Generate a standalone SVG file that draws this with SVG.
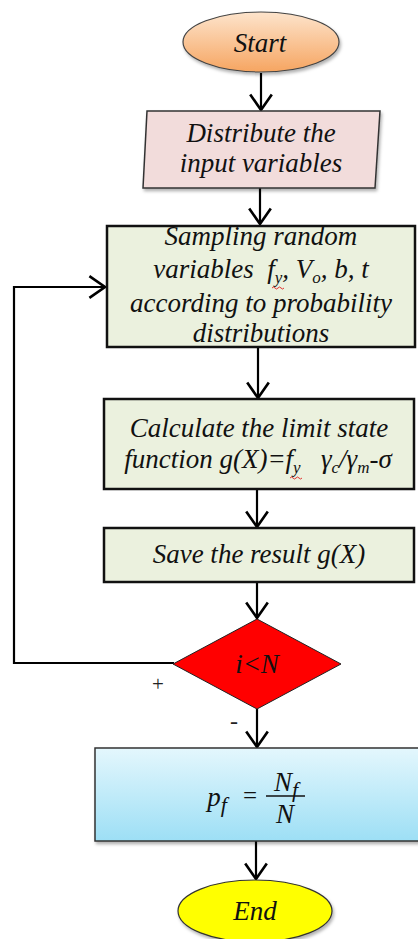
<svg xmlns="http://www.w3.org/2000/svg" width="418" height="939" viewBox="0 0 418 939">
<defs>
<style>
text{font-family:"Liberation Serif","Times New Roman",serif}
.t{font-style:italic;fill:#111;text-anchor:middle}
.box{fill:#ebf1de;stroke:#111;stroke-width:2.5}
.con{fill:none;stroke:#000;stroke-width:2.2}
</style>
<linearGradient id="gStart" x1="0" y1="0" x2="0" y2="1"><stop offset="0" stop-color="#fde4cc"/><stop offset="1" stop-color="#f6a561"/></linearGradient>
<linearGradient id="gPf" x1="0" y1="0" x2="0" y2="1"><stop offset="0" stop-color="#e4f7fd"/><stop offset="1" stop-color="#9ddff5"/></linearGradient>
<filter id="sh" x="-10%" y="-10%" width="130%" height="140%"><feDropShadow dx="1.5" dy="2.5" stdDeviation="1.5" flood-color="#000" flood-opacity="0.3"/></filter>
<marker id="ar" markerUnits="userSpaceOnUse" markerWidth="24" markerHeight="24" viewBox="-14 -10 16 20" refX="0" refY="0" orient="auto">
<path d="M-13,-9 L0,0 L-13,9" fill="none" stroke="#000" stroke-width="2.2"/>
</marker>
</defs>
<g id="connectors">
<line class="con" x1="261" y1="73" x2="261" y2="110" marker-end="url(#ar)"/>
<line class="con" x1="260" y1="188" x2="260" y2="224" marker-end="url(#ar)"/>
<line class="con" x1="258" y1="347" x2="258" y2="398" marker-end="url(#ar)"/>
<line class="con" x1="257" y1="489" x2="257" y2="527" marker-end="url(#ar)"/>
<line class="con" x1="257" y1="582" x2="257" y2="618" marker-end="url(#ar)"/>
<line class="con" x1="257" y1="709" x2="257" y2="747" marker-end="url(#ar)"/>
<line class="con" x1="256" y1="841" x2="256" y2="879" marker-end="url(#ar)"/>
<polyline class="con" points="174,663 14,663 14,287 105,287" marker-end="url(#ar)"/>
</g>
<g id="start">
<ellipse cx="261" cy="42" rx="78" ry="30" fill="url(#gStart)" stroke="#444" stroke-width="1.2" filter="url(#sh)"/>
<text class="t" x="260" y="52" font-size="27">Start</text>
</g>
<g id="distribute">
<polygon points="147,111 380,111 375,188 143,188" fill="#f2dcdb" stroke="#333" stroke-width="1.5" filter="url(#sh)"/>
<text class="t" x="261" y="142" font-size="27">Distribute the</text>
<text class="t" x="261" y="172" font-size="27">input variables</text>
</g>
<g id="sampling">
<rect class="box" x="107" y="226" width="308" height="121"/>
<text class="t" x="261" y="245" font-size="27">Sampling random</text>
<text class="t" x="261" y="278" font-size="27">variables&#160; f<tspan font-size="17" dy="5">y</tspan><tspan dy="-5">, V</tspan><tspan font-size="17" dy="5">o</tspan><tspan dy="-5">, b, t</tspan></text>
<text class="t" x="261" y="312" font-size="27">according to probability</text>
<text class="t" x="261" y="342" font-size="27">distributions</text>
<path d="M272,288 q1.5,-2 3,0 t3,0 t3,0 t3,0" fill="none" stroke="#e02020" stroke-width="0.9"/>
</g>
<g id="calculate">
<rect class="box" x="104" y="399" width="310" height="90"/>
<text class="t" x="259" y="437" font-size="27">Calculate the limit state</text>
<text class="t" x="258" y="468" font-size="27">function g(X)=f<tspan font-size="17" dy="5">y</tspan><tspan dy="-5">&#160;&#160; γ</tspan><tspan font-size="17" dy="5">c</tspan><tspan dy="-5">/γ</tspan><tspan font-size="17" dy="5">m</tspan><tspan dy="-5">-σ</tspan></text>
<path d="M290,478 q1.5,-2 3,0 t3,0 t3,0 t3,0" fill="none" stroke="#e02020" stroke-width="0.9"/>
</g>
<g id="save">
<rect class="box" x="104" y="528" width="310" height="54"/>
<text class="t" x="259" y="563" font-size="27">Save the result g(X)</text>
</g>
<g id="decision">
<polygon points="257,619 341,664 257,709 173,664" fill="#ff0000" stroke="#222" stroke-width="1"/>
<text class="t" x="257" y="673" font-size="27">i&lt;N</text>
<text x="158" y="691" font-size="21" fill="#222" text-anchor="middle">+</text>
<text x="234" y="729" font-size="24" fill="#222" text-anchor="middle">-</text>
</g>
<g id="pf">
<rect x="95" y="748" width="330" height="93" fill="url(#gPf)" stroke="#333" stroke-width="1.5" filter="url(#sh)"/>
<text class="t" x="217" y="806" font-size="27">p<tspan font-size="22" dy="6">f</tspan></text>
<text x="250" y="804" font-size="25" fill="#111" text-anchor="middle">=</text>
<text class="t" x="286" y="791" font-size="27">N<tspan font-size="22" dy="6">f</tspan></text>
<line x1="266" y1="796" x2="305" y2="796" stroke="#111" stroke-width="1.3"/>
<text class="t" x="285" y="823" font-size="27">N</text>
</g>
<g id="end">
<ellipse cx="255" cy="911" rx="77" ry="31" fill="#ffff00" stroke="#333" stroke-width="1.2" filter="url(#sh)"/>
<text class="t" x="255" y="920" font-size="27">End</text>
</g>
</svg>
